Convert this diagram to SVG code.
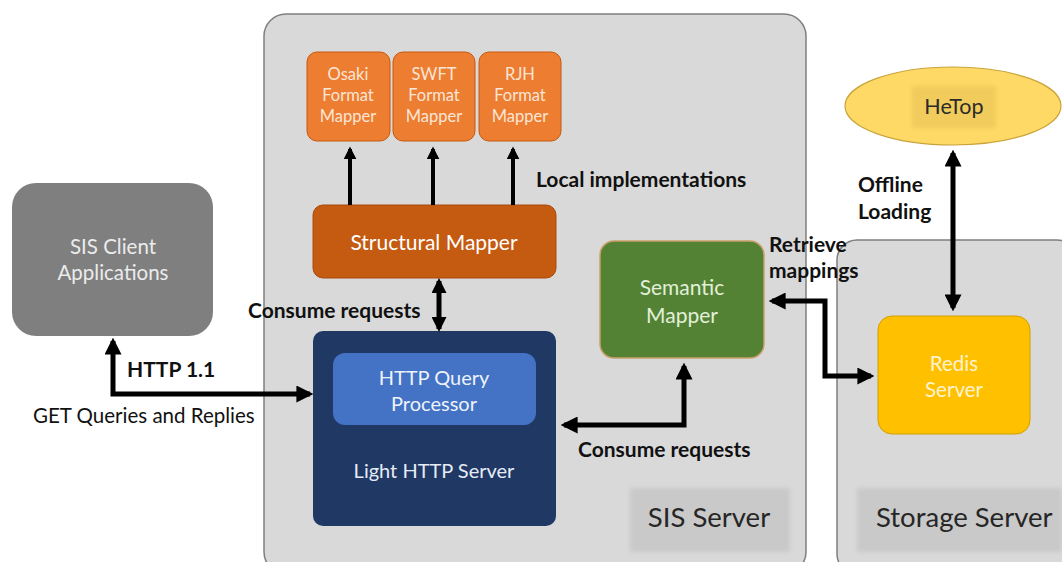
<svg xmlns="http://www.w3.org/2000/svg" width="1062" height="562" viewBox="0 0 1062 562">
  <defs>
    <style>
      text { font-family: Lato, "Open Sans", "Liberation Sans", sans-serif; }
      .bold { font-weight: bold; fill: #111; font-size: 21px; }
      .reg { fill: #111; font-size: 20.5px; }
      .wire { fill: none; stroke: #000; stroke-width: 5; }
      .thin { fill: none; stroke: #000; stroke-width: 4; }
      .container { fill: #d9d9d9; stroke: #7f7f7f; stroke-width: 1.5; }
      .tag { fill: #c9c9c9; }
      .tagtext { fill: #262626; font-size: 27.5px; }
      .fmt { fill: #ed7d31; stroke: #c55a11; stroke-width: 1; }
      .fmttext { fill: #fbe5d6; font-size: 16.5px; text-anchor: middle; }
      .white { fill: #ffffff; text-anchor: middle; }
    </style>
    <marker id="ah" viewBox="0 0 10 10" refX="8" refY="5" markerUnits="userSpaceOnUse" markerWidth="17" markerHeight="17" orient="auto-start-reverse">
      <path d="M0,0 L10,5 L0,10 z" fill="#000"/>
    </marker>
    <marker id="ahs" viewBox="0 0 10 10" refX="8" refY="5" markerUnits="userSpaceOnUse" markerWidth="13" markerHeight="13" orient="auto-start-reverse">
      <path d="M0,0 L10,5 L0,10 z" fill="#000"/>
    </marker>
    <marker id="ahm" viewBox="0 0 10 10" refX="8" refY="5" markerUnits="userSpaceOnUse" markerWidth="15" markerHeight="15" orient="auto-start-reverse">
      <path d="M0,0 L10,5 L0,10 z" fill="#000"/>
    </marker>
    <filter id="soft" x="-10%" y="-10%" width="120%" height="120%">
      <feGaussianBlur stdDeviation="2"/>
    </filter>
  </defs>

  <rect width="1062" height="562" fill="#ffffff"/>

  <!-- server containers -->
  <g id="sis-server">
    <rect class="container" x="264" y="14" width="542" height="560" rx="22"/>
    <rect class="tag" x="630" y="488" width="160" height="64" filter="url(#soft)"/>
    <text class="tagtext" x="709" y="527" text-anchor="middle">SIS Server</text>
  </g>
  <g id="storage-server">
    <rect class="container" x="837" y="240" width="240" height="334" rx="20"/>
    <rect class="tag" x="857" y="488" width="205" height="64" filter="url(#soft)"/>
    <text class="tagtext" x="876" y="527">Storage Server</text>
  </g>

  <!-- format mappers -->
  <g id="osaki-mapper">
    <rect class="fmt" x="307" y="52" width="83" height="89" rx="10"/>
    <text class="fmttext" x="348" y="80">Osaki</text>
    <text class="fmttext" x="348" y="101">Format</text>
    <text class="fmttext" x="348" y="122">Mapper</text>
  </g>
  <g id="swft-mapper">
    <rect class="fmt" x="393" y="52" width="82" height="89" rx="10"/>
    <text class="fmttext" x="434" y="80">SWFT</text>
    <text class="fmttext" x="434" y="101">Format</text>
    <text class="fmttext" x="434" y="122">Mapper</text>
  </g>
  <g id="rjh-mapper">
    <rect class="fmt" x="479" y="52" width="82" height="89" rx="10"/>
    <text class="fmttext" x="520" y="80">RJH</text>
    <text class="fmttext" x="520" y="101">Format</text>
    <text class="fmttext" x="520" y="122">Mapper</text>
  </g>

  <g id="structural-mapper">
    <rect x="313" y="205" width="243" height="73" rx="10" fill="#c55a11" stroke="#a84a0c" stroke-width="1"/>
    <text class="white" x="434" y="250" font-size="21">Structural Mapper</text>
  </g>

  <g id="light-http-server">
    <rect x="313" y="331" width="243" height="195" rx="10" fill="#1f3864"/>
    <text x="434" y="478" font-size="20" fill="#e6ecf5" text-anchor="middle">Light HTTP Server</text>
  </g>
  <g id="http-query-processor">
    <rect x="333" y="353" width="203" height="72" rx="12" fill="#4472c4"/>
    <text x="434" y="385" font-size="20" fill="#eef3fb" text-anchor="middle">HTTP Query</text>
    <text x="434" y="411" font-size="20" fill="#eef3fb" text-anchor="middle">Processor</text>
  </g>

  <g id="sis-client">
    <rect x="12" y="183" width="201" height="153" rx="24" fill="#7f7f7f"/>
    <text x="113" y="254" font-size="20.5" fill="#ebebeb" text-anchor="middle">SIS Client</text>
    <text x="113" y="280" font-size="20.5" fill="#ebebeb" text-anchor="middle">Applications</text>
  </g>

  <g id="semantic-mapper">
    <rect x="600" y="241" width="164" height="117" rx="14" fill="#548235" stroke="#c9a06a" stroke-width="1.5"/>
    <text x="682" y="295" font-size="21" fill="#e2f0d9" text-anchor="middle">Semantic</text>
    <text x="682" y="323" font-size="21" fill="#e2f0d9" text-anchor="middle">Mapper</text>
  </g>

  <g id="redis-server">
    <rect x="878" y="316" width="152" height="118" rx="14" fill="#ffc000" stroke="#d29e00" stroke-width="1"/>
    <text x="954" y="371" font-size="20.5" fill="#fff3d0" text-anchor="middle">Redis</text>
    <text x="954" y="397" font-size="20.5" fill="#fff3d0" text-anchor="middle">Server</text>
  </g>

  <g id="hetop">
    <ellipse cx="953" cy="106" rx="108" ry="39" fill="#ffd966" stroke="#c9a43a" stroke-width="1.2"/>
    <rect x="912" y="86" width="84" height="42" fill="#f1cc5c" filter="url(#soft)"/>
    <text x="954" y="114" font-size="21.5" fill="#2b2b2b" text-anchor="middle">HeTop</text>
  </g>

  <!-- connectors -->
  <g id="connectors">
    <path class="thin" d="M350,205 V149" marker-end="url(#ahs)"/>
    <path class="thin" d="M433,205 V149" marker-end="url(#ahs)"/>
    <path class="thin" d="M513,205 V149" marker-end="url(#ahs)"/>
    <path class="wire" d="M439,281 V329" marker-start="url(#ahm)" marker-end="url(#ahm)"/>
    <path class="wire" d="M113,341 V394 H310" marker-start="url(#ah)" marker-end="url(#ah)"/>
    <path class="wire" d="M684,366 V425 H564" marker-start="url(#ah)" marker-end="url(#ah)"/>
    <path class="wire" d="M772,301 H825 V376 H871" marker-start="url(#ah)" marker-end="url(#ah)"/>
    <path class="wire" d="M953,153 V308" stroke-width="7" marker-start="url(#ah)" marker-end="url(#ah)"/>
  </g>

  <!-- connector labels -->
  <g id="labels">
    <text class="bold" x="536" y="187">Local implementations</text>
    <text class="bold" x="248" y="318">Consume requests</text>
    <text class="bold" x="127" y="377" font-size="22">HTTP 1.1</text>
    <text class="reg" x="33" y="423">GET Queries and Replies</text>
    <text class="bold" x="578" y="457">Consume requests</text>
    <text class="bold" x="769" y="252">Retrieve</text>
    <text class="bold" x="769" y="278">mappings</text>
    <text class="bold" x="858" y="192">Offline</text>
    <text class="bold" x="858" y="219">Loading</text>
  </g>
</svg>
